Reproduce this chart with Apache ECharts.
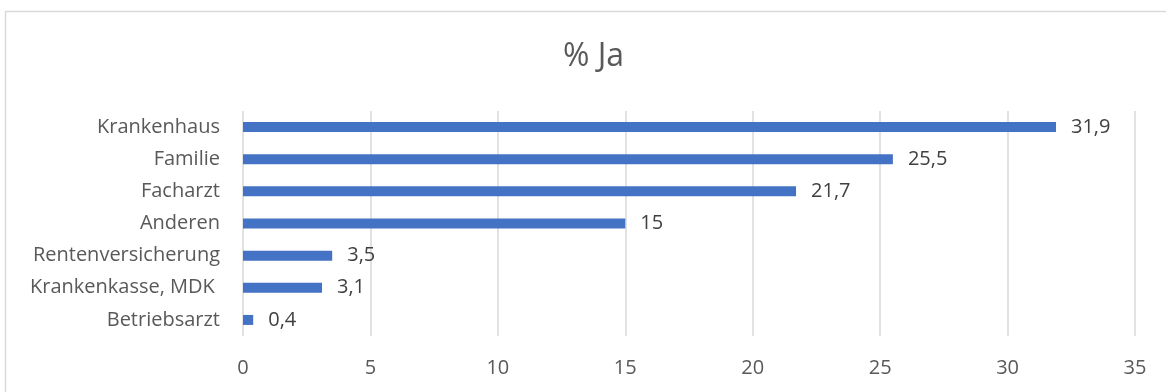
<!DOCTYPE html>
<html>
<head>
<meta charset="utf-8">
<script src="https://cdn.jsdelivr.net/npm/echarts@6/dist/echarts.min.js"></script>
<style>
  html, body { margin: 0; padding: 0; background: #fff; }
  #chart { width: 1166px; height: 392px; }
</style>
</head>
<body>
<div id="chart"></div>
<script>
// Categories listed bottom-to-top (category axis on y starts at the bottom)
const categories = ['Betriebsarzt', 'Krankenkasse, MDK ', 'Rentenversicherung', 'Anderen', 'Facharzt', 'Familie', 'Krankenhaus'];
const values = [0.4, 3.1, 3.5, 15, 21.7, 25.5, 31.9];
const xTicks = { min: 0, max: 35, interval: 5 };
const titleText = '% Ja';

const FONT = '"Open Sans", "Noto Sans", sans-serif';
const chart = echarts.init(document.getElementById('chart'), null, { renderer: 'canvas' });

chart.setOption({
  animation: false,
  backgroundColor: '#ffffff',
  title: {
    text: titleText,
    left: 558,
    top: 36,
    textStyle: { fontFamily: FONT, fontSize: 32, fontWeight: 'normal', color: '#595959' }
  },
  graphic: [{
    type: 'rect',
    shape: { x: 5.5, y: 11.5, width: 1180, height: 400 },
    style: { fill: 'none', stroke: '#d9d9d9', lineWidth: 1.5 },
    silent: true
  }],
  grid: { left: 243, right: 31, top: 111, bottom: 56 },
  xAxis: {
    type: 'value',
    min: xTicks.min, max: xTicks.max, interval: xTicks.interval,
    axisLine: { show: false },
    axisTick: { show: false },
    splitLine: { lineStyle: { color: '#d9d9d9', width: 1.5 } },
    axisLabel: { margin: 22, fontFamily: FONT, fontSize: 20, color: '#595959' }
  },
  yAxis: {
    type: 'category',
    data: categories,
    axisLine: { show: false },
    axisTick: { show: false },
    axisLabel: { margin: 23, fontFamily: FONT, fontSize: 20, color: '#595959' }
  },
  series: [{
    type: 'bar',
    data: values,
    barWidth: 10,
    itemStyle: { color: '#4472c4' },
    label: {
      show: true,
      position: 'right',
      distance: 15,
      fontFamily: FONT,
      fontSize: 20,
      color: '#404040',
      formatter: p => String(p.value).replace('.', ',')
    }
  }]
});
</script>
</body>
</html>
